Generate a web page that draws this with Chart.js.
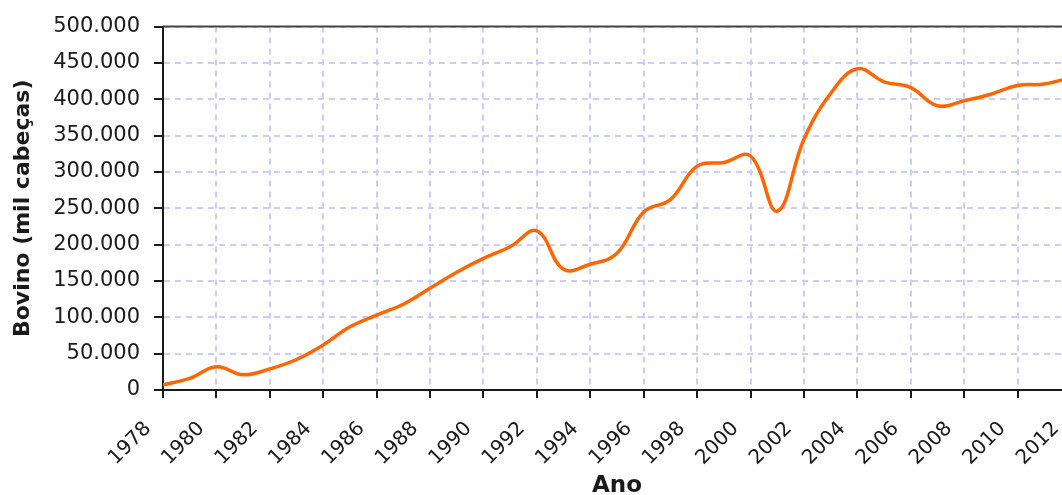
<!DOCTYPE html>
<html>
<head>
<meta charset="utf-8">
<script src="https://cdn.jsdelivr.net/npm/chart.js@4/dist/chart.umd.min.js"></script>
<style>
  html, body { margin: 0; padding: 0; background: #fff; overflow: hidden; }
  #wrap { width: 1100px; height: 495px; }
</style>
</head>
<body>
<div id="wrap"><canvas id="myChart" width="1100" height="495"></canvas></div>
<script>
// rebanho bovino por ano
const anos = [1978, 1979, 1980, 1981, 1982, 1983, 1984, 1985, 1986, 1987, 1988, 1989,
  1990, 1991, 1992, 1993, 1994, 1995, 1996, 1997, 1998, 1999, 2000, 2001,
  2002, 2003, 2004, 2005, 2006, 2007, 2008, 2009, 2010, 2011, 2012];
const bovino = [7000, 16000, 32000, 21000, 29000, 42000, 62000, 87000, 103000, 118000, 140000, 162000,
  181000, 197000, 219000, 166000, 173000, 188000, 245000, 262000, 308000, 313000, 322000, 246000,
  345000, 408000, 442000, 424000, 416000, 391000, 398000, 407000, 419000, 421000, 430000];
const yTicks = [0, 50000, 100000, 150000, 200000, 250000, 300000, 350000, 400000, 450000, 500000];

const textColor = "#1a1a1a";
const gridColor = "#ccccff";

function milhar(v) {
    return String(v).replace(/\B(?=(\d{3})+(?!\d))/g, ".");
}

// linha escura no topo da area do grafico
const bordaTopo = {
    id: "bordaTopo",
    afterDraw(chart) {
        const a = chart.chartArea;
        const c = chart.ctx;
        c.save();
        c.strokeStyle = "#444";
        c.lineWidth = 2;
        c.beginPath();
        c.moveTo(a.left, a.top);
        c.lineTo(a.right + 20, a.top);
        c.stroke();
        c.restore();
    }
};

const config = {
    type: "line",
    data: {
        datasets: [{
            data: anos.map((a, i) => ({x: a, y: bovino[i]})),
            borderColor: "#ff6600",
            borderWidth: 3.5,
            pointRadius: 0,
            tension: 0.4,
            fill: false
        }]
    },
    options: {
        responsive: false,
        animation: false,
        layout: { padding: { left: 0, top: 25, right: 29, bottom: 0 } },
        plugins: { legend: { display: false }, tooltip: { enabled: false } },
        scales: {
            x: {
                type: "linear",
                min: 1978,
                max: 2012,
                afterFit(scale) {
                    scale.height = 105;
                    scale.paddingLeft = 0;
                    scale.paddingRight = 0;
                },
                ticks: {
                    stepSize: 2,
                    autoSkip: false,
                    minRotation: 45,
                    maxRotation: 45,
                    color: textColor,
                    padding: 19,
                    labelOffset: -15,
                    font: { family: "'DejaVu Sans'", size: 20 },
                    callback: v => String(v)
                },
                grid: {
                    color: gridColor,
                    lineWidth: 2,
                    tickLength: 8,
                    tickColor: textColor,
                    tickWidth: 2,
                    tickBorderDash: []
                },
                border: { color: textColor, width: 2, dash: [6, 5] },
                title: {
                    display: true,
                    text: "Ano",
                    color: textColor,
                    padding: { top: 0, bottom: 0 },
                    font: { family: "'DejaVu Sans'", size: 23, weight: "bold", lineHeight: 0.8 }
                }
            },
            y: {
                min: 0,
                max: 500000,
                afterFit(scale) { scale.width = 163; },
                afterBuildTicks(scale) { scale.ticks = yTicks.map(v => ({value: v})); },
                ticks: {
                    color: textColor,
                    padding: 14,
                    font: { family: "'DejaVu Sans'", size: 21 },
                    callback: v => milhar(v)
                },
                grid: {
                    color: gridColor,
                    lineWidth: 2,
                    tickLength: 9,
                    tickColor: textColor,
                    tickWidth: 2,
                    tickBorderDash: []
                },
                border: { color: textColor, width: 2, dash: [6, 5] },
                title: {
                    display: true,
                    text: "Bovino (mil cabeças)",
                    color: textColor,
                    padding: { top: 12, bottom: 0 },
                    font: { family: "'DejaVu Sans'", size: 22, weight: "bold", lineHeight: 1 }
                }
            }
        }
    },
    plugins: [bordaTopo]
};

new Chart("myChart", config);
</script>
</body>
</html>
